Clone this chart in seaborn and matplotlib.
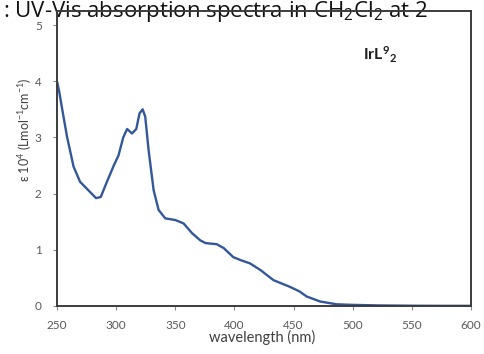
import matplotlib
matplotlib.use("Agg")
import matplotlib.pyplot as plt
import seaborn as sns
import pandas as pd

# Absorption spectrum of IrL9_2 in CH2Cl2
wavelength_nm = [250, 252, 254, 258.5, 264, 269.5, 276.5, 283, 287, 292,
                 298, 302, 306, 309.3, 313.4, 317, 319.8, 322.4, 324.6, 327.4,
                 331.7, 335.9, 341.5, 350, 357, 364, 371, 375.5, 380, 385,
                 391, 399, 406, 413, 422, 433, 447, 455, 461, 472.5,
                 486.5, 500, 523, 550, 575, 600]
epsilon_1e4 = [4.0, 3.8, 3.55, 3.01, 2.48, 2.21, 2.06, 1.92, 1.94, 2.2,
               2.5, 2.68, 3.0, 3.15, 3.07, 3.15, 3.43, 3.5, 3.37, 2.78,
               2.06, 1.71, 1.56, 1.53, 1.47, 1.3, 1.17, 1.12, 1.11, 1.10,
               1.03, 0.87, 0.81, 0.76, 0.64, 0.46, 0.34, 0.26, 0.17, 0.08,
               0.03, 0.02, 0.01, 0.005, 0.003, 0.003]
x_ticks = [250, 300, 350, 400, 450, 500, 550, 600]
y_ticks = [0, 1, 2, 3, 4, 5]

sns.set_theme(style="white")
plt.rcParams["font.family"] = ["Lato", "DejaVu Sans"]
plt.rcParams["mathtext.default"] = "regular"

df = pd.DataFrame({"wavelength": wavelength_nm, "epsilon": epsilon_1e4})

fig = plt.figure(figsize=(4.85, 3.54), dpi=100)
ax = fig.add_axes([57 / 485, 1 - 306 / 354, (471 - 57) / 485, (306 - 11) / 354])
ax.set_facecolor("none")
ax.set_zorder(2)

sns.lineplot(data=df, x="wavelength", y="epsilon", ax=ax, color="#33579b",
             linewidth=1.7, sort=True)

ax.set_xlim(250, 600)
ax.set_ylim(0, 5.25)
ax.set_xticks(x_ticks)
ax.set_yticks(y_ticks)
ax.tick_params(axis="both", which="both", direction="out", length=3,
               width=0.8, color="#8c8c8c", labelsize=8.5, labelcolor="#595959")
ax.tick_params(axis="x", pad=7)
ax.tick_params(axis="y", pad=8)
ax.tick_params(left=True, bottom=True)
for s in ax.spines.values():
    s.set_color("#3c3c3c")
    s.set_linewidth(1.4)

ax.set_xlabel("")
ax.set_ylabel("")
fig.text(262 / 485, 1 - 337 / 354, "wavelength (nm)", ha="center", va="center",
         fontsize=10.5, color="#404040")
fig.text(25 / 485, 1 - 130 / 354, "ε 10$^{4}$ (Lmol$^{-1}$cm$^{-1}$)",
         rotation=90, ha="center", va="center", fontsize=9, color="#404040")

fig.text(380 / 485, 1 - 55 / 354, "IrL$^{9}$$_{2}$", ha="center", va="center",
         fontsize=11.5, fontweight="bold", color="#1e1e1e", zorder=5)

fig.text(3 / 485, 1 - 17 / 354,
         ": UV-Vis absorption spectra in CH$_{2}$Cl$_{2}$ at 2",
         ha="left", va="baseline", fontsize=16, color="#111111",
         family=["Open Sans", "DejaVu Sans"], zorder=1)

fig.savefig("out.png", dpi=100)
